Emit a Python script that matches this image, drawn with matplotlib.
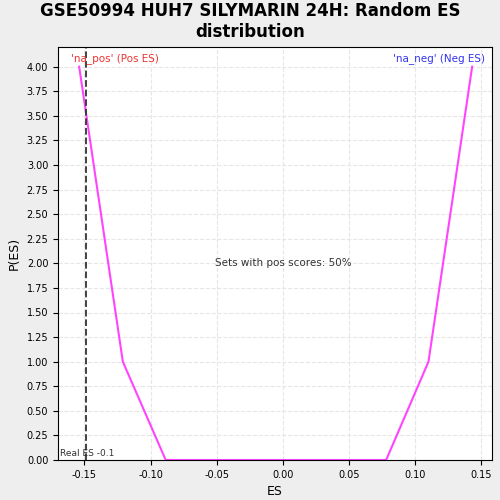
import matplotlib
matplotlib.use("Agg")
import matplotlib.pyplot as plt
import numpy as np

es = [-0.154, -0.121, -0.0886, 0.078, 0.110, 0.143]
p = [4.0, 1.0, 0.0, 0.0, 1.0, 4.0]
real_es = -0.149

fig = plt.figure(figsize=(5, 5), dpi=100, facecolor="#eeeeee")
ax = fig.add_axes([0.116, 0.08, 0.868, 0.826])
ax.plot(es, p, color="#ff44ff", lw=1.5)
ax.axvline(real_es, color="#333333", ls="--", lw=1.3)
ax.set_xlim(-0.170, 0.158)
ax.set_ylim(0, 4.2)
ax.set_xticks(np.arange(-0.15, 0.151, 0.05))
ax.set_xticklabels(["-0.15", "-0.10", "-0.05", "0.00", "0.05", "0.10", "0.15"])
ax.set_yticks(np.arange(0, 4.01, 0.25))
ax.set_yticklabels([f"{v:.2f}" for v in np.arange(0, 4.01, 0.25)])
ax.tick_params(labelsize=7)
ax.grid(True, ls="--", color="#e6e6e6", lw=0.8)
ax.set_xlabel("ES", fontsize=9)
ax.set_ylabel("P(ES)", fontsize=9)
fig.suptitle("GSE50994 HUH7 SILYMARIN 24H: Random ES\ndistribution", fontsize=12, fontweight="bold", x=0.5, y=0.995)
ax.text(0.03, 0.985, "'na_pos' (Pos ES)", transform=ax.transAxes, color="#ee3333", fontsize=7.5, va="top")
ax.text(0.985, 0.985, "'na_neg' (Neg ES)", transform=ax.transAxes, color="#3333ee", fontsize=7.5, va="top", ha="right")
ax.text(0.0, 2.0, "Sets with pos scores: 50%", fontsize=7.5, ha="center", va="center", color="#333333")
ax.text(0.005, 0.005, "Real ES -0.1", transform=ax.transAxes, fontsize=6.5, color="#333333", va="bottom")
fig.savefig("out.png", dpi=100, facecolor=fig.get_facecolor())
